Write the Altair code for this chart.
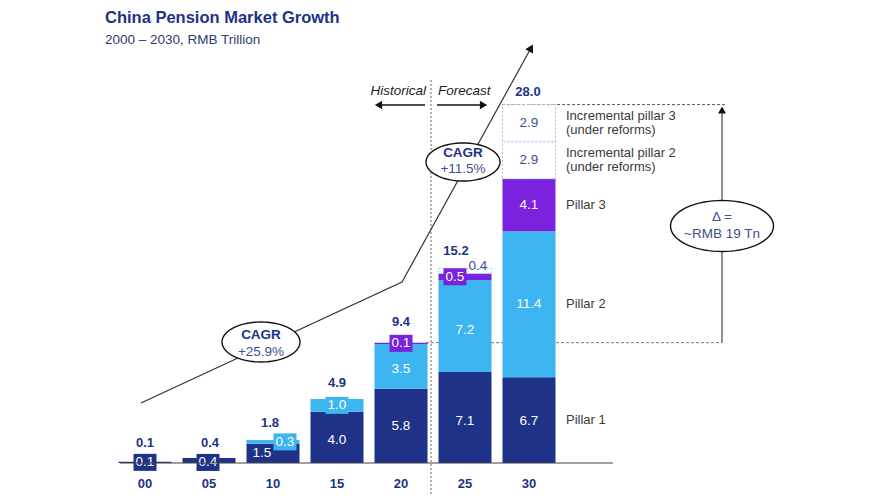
import altair as alt
import pandas as pd
import numpy as np

# ---------------- data ----------------
years = ["00", "05", "10", "15", "20", "25", "30"]
pillar1 = [0.1, 0.4, 1.5, 4.0, 5.8, 7.1, 6.7]
pillar2 = [0.0, 0.0, 0.3, 1.0, 3.5, 7.2, 11.4]
pillar3 = [0.0, 0.0, 0.0, 0.0, 0.1, 0.5, 4.1]
incremental2 = [0.0, 0.0, 0.0, 0.0, 0.0, 0.4, 2.9]
incremental3 = [0.0, 0.0, 0.0, 0.0, 0.0, 0.0, 2.9]
totals = [0.1, 0.4, 1.8, 4.9, 9.4, 15.2, 28.0]
series_names = ["Pillar 1", "Pillar 2", "Pillar 3", "Incremental pillar 2", "Incremental pillar 3"]
right_labels = ["Pillar 1", "Pillar 2", "Pillar 3", "Incremental pillar 2", "Incremental pillar 3"]
right_sublabels = ["", "", "", "(under reforms)", "(under reforms)"]
cagr_values = ["+25.9%", "+11.5%"]
delta_text = ["Δ =", "~RMB 19 Tn"]
title_text = "China Pension Market Growth"
subtitle_text = "2000 – 2030, RMB Trillion"

# ---------------- styling ----------------
FONT = "Liberation Sans"
NAVY = "#1e3287"
LBLUE = "#3db5f0"
PURPLE = "#7a22de"
INC2 = "#8ccff0"
INC3 = "#c3a6ec"
SOFT = "#3d4f8f"
GREY = "#333333"
colors = [NAVY, LBLUE, PURPLE, INC2, INC3]

# pixel <-> data helpers (layout only)
PXX, X0 = 64.0, 145.0
PXY, Y0 = 12.8, 463.0
def ix(px):
    return (px - X0) / PXX
def vy(py):
    return (Y0 - py) / PXY

W, H = 874, 486
xs = alt.Scale(domain=[ix(8), ix(8 + W)], nice=False, zero=False)
ys = alt.Scale(domain=[vy(8 + H), vy(8)], nice=False, zero=False)
def X(f="x"):
    return alt.X(f"{f}:Q", scale=xs, axis=None)
def Y(f="y"):
    return alt.Y(f"{f}:Q", scale=ys, axis=None)

HALF = 26.5 / PXX  # half bar width in index units

# ---------------- bar segments ----------------
series_vals = [pillar1, pillar2, pillar3, incremental2, incremental3]
rows = []
for i, yr in enumerate(years):
    base = 0.0
    for s, vals in zip(series_names, series_vals):
        v = vals[i]
        if v > 0:
            rows.append(dict(year=yr, i=i, x=i - HALF, x2=i + HALF, y=base, y2=base + v,
                             mid=base + v / 2, series=s, val=v, label=f"{v:.1f}"))
        base += v
seg = pd.DataFrame(rows)
solid = seg[~seg.series.str.startswith("Incremental")]
inc = seg[seg.series.str.startswith("Incremental")]

color_scale = alt.Scale(domain=series_names, range=colors)

bars = alt.Chart(solid).mark_bar().encode(
    x=X(), x2="x2:Q", y=Y(), y2="y2:Q",
    color=alt.Color("series:N", scale=color_scale, legend=None))

inc_bars = alt.Chart(inc).mark_bar(fill="white", strokeDash=[2, 2], strokeWidth=1).encode(
    x=X(), x2="x2:Q", y=Y(), y2="y2:Q",
    stroke=alt.Stroke("series:N", scale=color_scale, legend=None))

# ---------------- segment labels ----------------
offsets = {("05", "Pillar 1"): (-1, 2), ("10", "Pillar 1"): (-11, 0), ("10", "Pillar 2"): (12, 0),
           ("15", "Pillar 1"): (0, 3), ("20", "Pillar 2"): (0, 3), ("25", "Pillar 1"): (0, 3),
           ("25", "Pillar 2"): (0, 4), ("25", "Pillar 3"): (-10, 0),
           ("25", "Incremental pillar 2"): (13, -5), ("30", "Pillar 1"): (0, 1)}
boxed = {("00", "Pillar 1"), ("05", "Pillar 1"), ("10", "Pillar 2"), ("15", "Pillar 2"),
         ("20", "Pillar 3"), ("25", "Pillar 3")}
lab = seg.copy()
lab["lx"] = [r.i + offsets.get((r.year, r.series), (0, 0))[0] / PXX for r in lab.itertuples()]
lab["ly"] = [r.mid - offsets.get((r.year, r.series), (0, 0))[1] / PXY for r in lab.itertuples()]
lab["boxed"] = [(r.year, r.series) in boxed for r in lab.itertuples()]
solid_lab = lab[~lab.series.str.startswith("Incremental")]
inc_lab = lab[lab.series.str.startswith("Incremental")]

box_path = "M-1,-0.74 L1,-0.74 L1,0.74 L-1,0.74 Z"
boxes = alt.Chart(lab[lab.boxed]).mark_point(shape=box_path, filled=True, size=529, opacity=1).encode(
    x=X("lx"), y=Y("ly"), color=alt.Color("series:N", scale=color_scale, legend=None))

seg_text = alt.Chart(solid_lab).mark_text(font=FONT, fontSize=13.5, color="white").encode(
    x=X("lx"), y=Y("ly"), text="label:N")
inc_text = alt.Chart(inc_lab).mark_text(font=FONT, fontSize=13.5, color=SOFT).encode(
    x=X("lx"), y=Y("ly"), text="label:N")

# totals above bars
total_dy = [-19, -15, -17, -17, -21, -17, -13]
total_dx = [0, 1, -3, 0, 0, -9, -1]
tot = pd.DataFrame(dict(x=[i + dx / PXX for i, dx in enumerate(total_dx)],
                        y=[t - dy / PXY for t, dy in zip(totals, total_dy)],
                        label=[f"{t:.1f}" for t in totals]))
tot_text = alt.Chart(tot).mark_text(font=FONT, fontSize=13, fontWeight="bold", color=NAVY).encode(
    x=X(), y=Y(), text="label:N")

# category labels and baseline
cats = pd.DataFrame(dict(x=list(range(len(years))), y=[vy(484)] * len(years), label=years))
cat_text = alt.Chart(cats).mark_text(font=FONT, fontSize=13, fontWeight="bold", color=NAVY).encode(
    x=X(), y=Y(), text="label:N")
baseline = alt.Chart(pd.DataFrame(dict(x=[ix(120)], x2=[ix(613)], y=[0.0]))).mark_rule(
    color="#444444", strokeWidth=1.2).encode(x=X(), x2="x2:Q", y=Y())

# right-hand series labels, at the centres of the 2030 segments
last = seg[seg.year == years[-1]].set_index("series")
line_gap = 7.0 / PXY
rl_rows = []
for s, l1, l2 in zip(series_names, right_labels, right_sublabels):
    m = last.loc[s, "mid"]
    if l2:
        rl_rows.append(dict(x=ix(566), y=m + line_gap, label=l1))
        rl_rows.append(dict(x=ix(566), y=m - line_gap, label=l2))
    else:
        rl_rows.append(dict(x=ix(566), y=m, label=l1))
rl = pd.DataFrame(rl_rows)
right_text = alt.Chart(rl).mark_text(font=FONT, fontSize=13, color="#3a3a3a", align="left").encode(
    x=X(), y=Y(), text="label:N")

# ---------------- annotations ----------------
divider = alt.Chart(pd.DataFrame(dict(x=[ix(431)], y=[vy(80)], y2=[vy(8 + H)]))).mark_rule(
    color="#666666", strokeDash=[2, 2], strokeWidth=1).encode(x=X(), y=Y(), y2="y2:Q")
hf = pd.DataFrame(dict(x=[ix(426), ix(438)], y=[vy(91)] * 2, label=["Historical", "Forecast"],
                       al=["right", "left"]))
hist_text = alt.Chart(hf[hf.al == "right"]).mark_text(font=FONT, fontSize=13.5, fontStyle="italic",
                                                      color="#222222", align="right").encode(
    x=X(), y=Y(), text="label:N")
fore_text = alt.Chart(hf[hf.al == "left"]).mark_text(font=FONT, fontSize=13.5, fontStyle="italic",
                                                     color="#222222", align="left").encode(
    x=X(), y=Y(), text="label:N")
hf_lines = alt.Chart(pd.DataFrame(dict(x=[ix(379), ix(437)], x2=[ix(425), ix(483)],
                                       y=[vy(105)] * 2))).mark_rule(color="#111111", strokeWidth=1.5).encode(
    x=X(), x2="x2:Q", y=Y())
hf_left = alt.Chart(pd.DataFrame(dict(x=[ix(378.5)], y=[vy(105)]))).mark_point(
    shape="triangle-left", filled=True, size=70, color="#111111", opacity=1).encode(x=X(), y=Y())
hf_right = alt.Chart(pd.DataFrame(dict(x=[ix(483.5)], y=[vy(105)]))).mark_point(
    shape="triangle-right", filled=True, size=70, color="#111111", opacity=1).encode(x=X(), y=Y())

# CAGR trend arrow
trend = pd.DataFrame(dict(x=[ix(141), ix(402), ix(531)], y=[vy(403), vy(282), vy(48)], o=[0, 1, 2]))
trend_line = alt.Chart(trend).mark_line(color=GREY, strokeWidth=1.2).encode(
    x=X(), y=Y(), order="o:Q")
trend_head = alt.Chart(pd.DataFrame(dict(x=[ix(531)], y=[vy(48)]))).mark_point(
    shape="triangle-up", angle=29, filled=True, size=80, color="#111111", opacity=1).encode(x=X(), y=Y())

# delta bracket
delta_h = alt.Chart(pd.DataFrame(dict(x=[ix(426)], x2=[ix(722)], y=[totals[4]]))).mark_rule(
    color="#777777", strokeDash=[3, 2], strokeWidth=1).encode(x=X(), x2="x2:Q", y=Y())
delta_top = alt.Chart(pd.DataFrame(dict(x=[ix(502)], x2=[ix(727)], y=[totals[6]]))).mark_rule(
    color="#555555", strokeDash=[3, 2], strokeWidth=1).encode(x=X(), x2="x2:Q", y=Y())
delta_v = alt.Chart(pd.DataFrame(dict(x=[ix(722)], y=[totals[4]], y2=[vy(110)]))).mark_rule(
    color="#555555", strokeWidth=1.3).encode(x=X(), y=Y(), y2="y2:Q")
delta_head = alt.Chart(pd.DataFrame(dict(x=[ix(722)], y=[vy(110)]))).mark_point(
    shape="triangle-up", filled=True, size=64, color="#111111", opacity=1).encode(x=X(), y=Y())

# ellipses
def ellipse_path(w, h, n=72):
    t = np.linspace(0, 2 * np.pi, n, endpoint=False)
    pts = [f"{np.cos(a):.4f},{np.sin(a) * h / w:.4f}" for a in t]
    return "M" + " L".join(pts) + " Z"

ell_specs = [(ix(261), vy(342), 78, 40), (ix(463), vy(162), 74, 38), (ix(722), vy(226), 103, 51)]
ell_layers = []
for ex, ey, w, h in ell_specs:
    ell_layers.append(alt.Chart(pd.DataFrame(dict(x=[ex], y=[ey]))).mark_point(
        shape=ellipse_path(w, h), filled=True, size=w * w, fill="white", stroke="#111111",
        strokeWidth=1.4, opacity=1).encode(x=X(), y=Y()))

cagr_head = pd.DataFrame(dict(x=[ix(261), ix(463)], y=[vy(335), vy(153)], label=["CAGR", "CAGR"]))
cagr_val = pd.DataFrame(dict(x=[ix(261), ix(463)], y=[vy(352), vy(169)], label=cagr_values))
cagr_t1 = alt.Chart(cagr_head).mark_text(font=FONT, fontSize=13.5, fontWeight="bold", color=NAVY).encode(
    x=X(), y=Y(), text="label:N")
cagr_t2 = alt.Chart(cagr_val).mark_text(font=FONT, fontSize=13.5, color=SOFT).encode(
    x=X(), y=Y(), text="label:N")
delta_df = pd.DataFrame(dict(x=[ix(722)] * 2, y=[vy(217), vy(234)], label=delta_text))
delta_t = alt.Chart(delta_df).mark_text(font=FONT, fontSize=13.5, color=SOFT).encode(
    x=X(), y=Y(), text="label:N")

# titles
title = alt.Chart(pd.DataFrame(dict(t=[title_text]))).mark_text(
    font=FONT, fontSize=16.5, fontWeight="bold", color=NAVY, align="left").encode(
    x=alt.value(97), y=alt.value(10), text="t:N")
subtitle = alt.Chart(pd.DataFrame(dict(t=[subtitle_text]))).mark_text(
    font=FONT, fontSize=13.5, color="#2e3b6e", align="left").encode(
    x=alt.value(97), y=alt.value(32), text="t:N")

chart = alt.layer(
    divider, delta_h, delta_top, delta_v, delta_head,
    bars, inc_bars, boxes, seg_text, inc_text, tot_text,
    baseline, cat_text, right_text,
    hist_text, fore_text, hf_lines, hf_left, hf_right,
    trend_line, trend_head, *ell_layers, cagr_t1, cagr_t2, delta_t,
    title, subtitle,
).properties(width=W, height=H, padding=0, autosize=alt.AutoSizeParams(type="none")
).configure_view(stroke=None)

chart.save("out.html", embed_options={"renderer": "svg", "actions": False})
